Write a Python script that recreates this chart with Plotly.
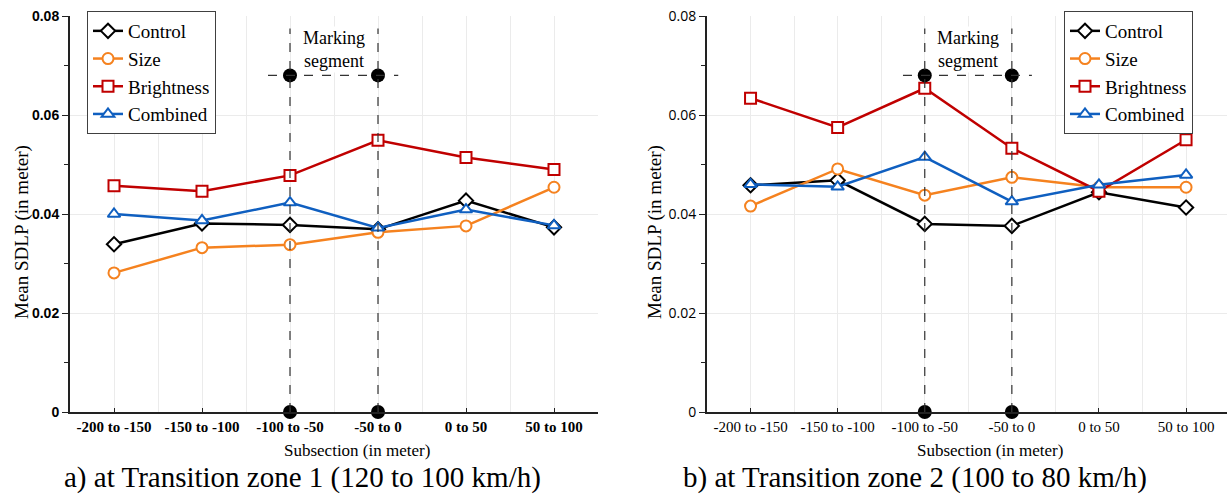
import plotly.graph_objects as go

categories = ["-200 to -150", "-150 to -100", "-100 to -50", "-50 to 0", "0 to 50", "50 to 100"]
series_names = ["Control", "Size", "Brightness", "Combined"]

# Panel a) Transition zone 1
a_control = [0.0339, 0.0381, 0.0378, 0.0369, 0.0427, 0.0373]
a_size = [0.0281, 0.0332, 0.0338, 0.0363, 0.0376, 0.0454]
a_brightness = [0.0457, 0.0446, 0.0478, 0.0549, 0.0514, 0.0490]
a_combined = [0.0400, 0.0387, 0.0423, 0.0372, 0.0409, 0.0377]

# Panel b) Transition zone 2
b_control = [0.0458, 0.0468, 0.0380, 0.0376, 0.0444, 0.0413]
b_size = [0.0416, 0.0491, 0.0438, 0.0474, 0.0454, 0.0454]
b_brightness = [0.0634, 0.0575, 0.0654, 0.0533, 0.0446, 0.0550]
b_combined = [0.0460, 0.0455, 0.0515, 0.0425, 0.0459, 0.0479]

y_ticks = [0, 0.02, 0.04, 0.06, 0.08]
y_ticktext = ["0", "0.02", "0.04", "0.06", "0.08"]
marking_top = 0.0775
marking_dot = 0.068
marking_text = "Marking<br>segment"

colors = ["#000000", "#F5821F", "#C00000", "#0F5FC0"]
symbols = ["diamond", "circle", "square", "triangle-up"]

captions = ["a) at Transition zone 1 (120 to 100 km/h)", "b) at Transition zone 2 (100 to 80 km/h)"]
xtitle = "Subsection (in meter)"
ytitle = "Mean SDLP (in meter)"

W, H = 1227, 498
xs = list(range(len(categories)))
seg_idx = [categories.index("-100 to -50"), categories.index("-50 to 0")]

fig = go.Figure()

panels = [
    dict(data=[a_control, a_size, a_brightness, a_combined], xa="x", ya="y", legend="legend"),
    dict(data=[b_control, b_size, b_brightness, b_combined], xa="x2", ya="y2", legend="legend2"),
]

dash_col = "#333333"
for p in panels:
    for xi in seg_idx:
        fig.add_shape(type="line", x0=xi, x1=xi, y0=0, y1=marking_top,
                      xref=p["xa"], yref=p["ya"], line=dict(color=dash_col, width=1.2, dash="dash"), layer="above")
    fig.add_shape(type="line", x0=seg_idx[0] - 0.25, x1=seg_idx[1] + 0.23, y0=marking_dot, y1=marking_dot,
                  xref=p["xa"], yref=p["ya"], line=dict(color=dash_col, width=1.2, dash="dash"), layer="above")
    for name, vals, c, s in zip(series_names, p["data"], colors, symbols):
        fig.add_trace(go.Scatter(
            x=xs, y=vals, name=name, mode="lines+markers",
            line=dict(color=c, width=2.5),
            marker=dict(symbol=s, size=11, color="white", line=dict(width=2, color=c)),
            xaxis=p["xa"], yaxis=p["ya"], legend=p["legend"], cliponaxis=False,
        ))
    # marking segment dots
    fig.add_trace(go.Scatter(
        x=[seg_idx[0], seg_idx[1], seg_idx[0], seg_idx[1]],
        y=[0, 0, marking_dot, marking_dot],
        mode="markers", marker=dict(color="black", size=14),
        xaxis=p["xa"], yaxis=p["ya"], showlegend=False, cliponaxis=False, hoverinfo="skip",
    ))
    fig.add_annotation(x=(seg_idx[0] + seg_idx[1]) / 2, y=0.0733, xref=p["xa"], yref=p["ya"],
                       text=marking_text, showarrow=False, xanchor="center", yanchor="middle",
                       font=dict(family="Liberation Serif", size=18, color="#000"), bgcolor="white")

ydom = [1 - 412 / H, 1 - 16 / H]
grid = "#EBEBEB"

def xaxis_cfg(domain, rng, font):
    return dict(domain=domain, range=rng, tickvals=xs, ticktext=categories,
                showgrid=True, gridcolor=grid, gridwidth=1, zeroline=False, automargin=False,
                ticks="inside", ticklen=4, tickcolor="#222", showline=True, linecolor="#222", linewidth=2,
                tickfont=font,
                minor=dict(tickvals=[i + 0.5 for i in xs], showgrid=True, gridcolor=grid, ticks=""))

def yaxis_cfg(font):
    return dict(domain=ydom, range=[0, 0.08], tickvals=y_ticks, ticktext=y_ticktext,
                showgrid=True, gridcolor=grid, zeroline=False, automargin=False,
                ticks="outside", ticklen=6, tickcolor="#222", showline=True, linecolor="#222", linewidth=2,
                tickfont=font,
                minor=dict(dtick=0.01, ticks="outside", ticklen=4, tickcolor="#222", showgrid=False))

xa1 = xaxis_cfg([70 / W, 598 / W], [-0.5, 5.5],
                dict(family="Liberation Serif", size=15, color="#000", weight="bold"))
xa1["anchor"] = "y"
xa2 = xaxis_cfg([707 / W, 1.0], [-0.5, 5.47],
                dict(family="Liberation Serif", size=15, color="#000"))
xa2["anchor"] = "y2"
ya1 = yaxis_cfg(dict(family="Liberation Sans", size=14, color="#000", weight="bold"))
ya1["anchor"] = "x"
ya2 = yaxis_cfg(dict(family="Open Sans", size=14, color="#000"))
ya2["anchor"] = "x2"

legend_common = dict(font=dict(family="Liberation Serif", size=19, color="#000"),
                     bgcolor="white", bordercolor="#404040", borderwidth=1,
                     xanchor="left", yanchor="top", tracegroupgap=0, itemwidth=30)

fig.update_layout(
    width=W, height=H, margin=dict(l=0, r=0, t=0, b=0, autoexpand=False),
    paper_bgcolor="white", plot_bgcolor="white",
    xaxis=xa1, yaxis=ya1, xaxis2=xa2, yaxis2=ya2,
    legend=dict(x=87 / W, y=1 - 11 / H, **legend_common),
    legend2=dict(x=1064 / W, y=1 - 11 / H, **legend_common),
    showlegend=True,
)

# axis titles and captions
for cx, yx, cap, capx in [(357, 22, captions[0], 302), (990, 655, captions[1], 915)]:
    fig.add_annotation(x=cx / W, y=1 - 450 / H, xref="paper", yref="paper", text=xtitle, showarrow=False,
                       xanchor="center", yanchor="middle",
                       font=dict(family="Liberation Serif", size=17, color="#000"))
    fig.add_annotation(x=capx / W, y=1 - 477 / H, xref="paper", yref="paper", text=cap, showarrow=False,
                       xanchor="center", yanchor="middle",
                       font=dict(family="Liberation Serif", size=29, color="#000"))
    fig.add_annotation(x=yx / W, y=1 - 232 / H, xref="paper", yref="paper", text=ytitle, showarrow=False,
                       xanchor="center", yanchor="middle",
                       textangle=-90, font=dict(family="Liberation Serif", size=19, color="#000"))

fig.write_html("out.html", config={"displayModeBar": False},
               post_script="document.body.style.margin='0';document.body.style.overflow='hidden';")
